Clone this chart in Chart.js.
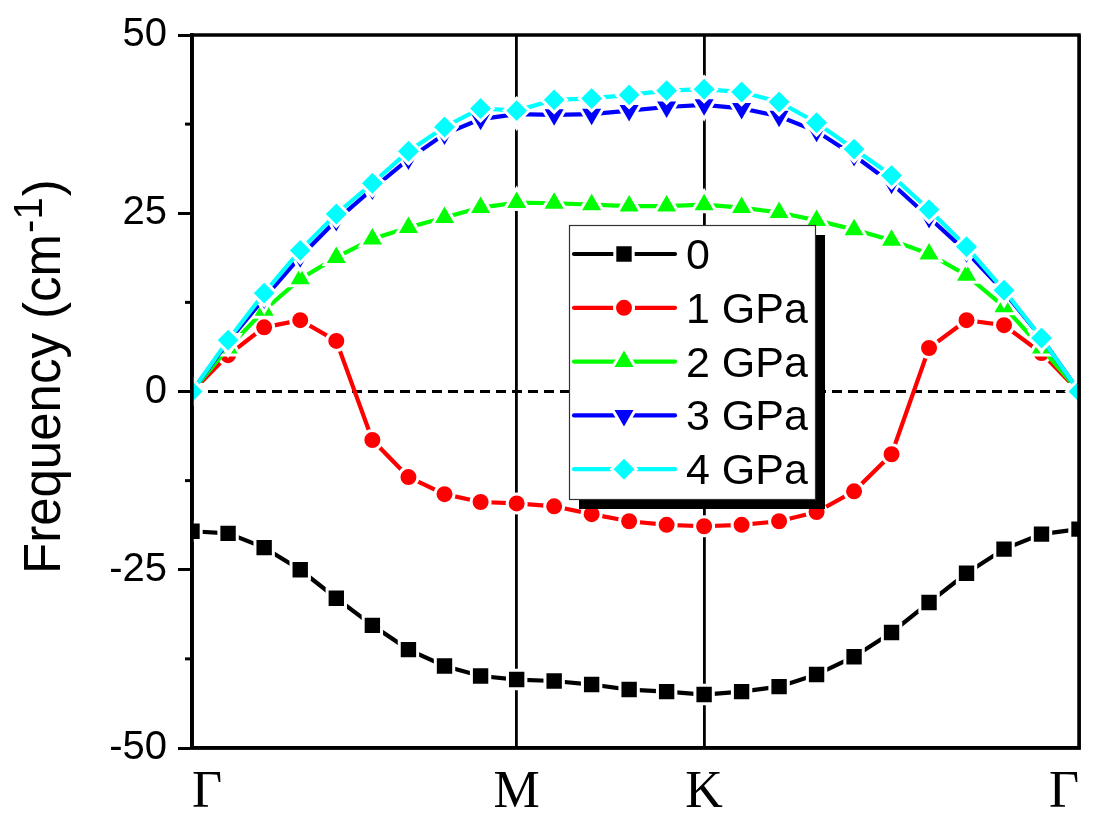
<!DOCTYPE html>
<html>
<head>
<meta charset="utf-8">
<script src="https://cdn.jsdelivr.net/npm/chart.js@4.4.1/dist/chart.umd.min.js"></script>
<style>
  html, body { margin: 0; padding: 0; background: #fff; }
  canvas { display: block; }
</style>
</head>
<body>
<canvas id="c" width="1097" height="820"></canvas>
<script>
// ---- data ----
// k-path distances (Γ-M: 9 steps, M-K: 5 steps, K-Γ: 10 steps)
const kPath = [0, 0.06415, 0.12830, 0.19245, 0.25660, 0.32075, 0.38490, 0.44905, 0.51320, 0.57735,
               0.64402, 0.71068, 0.77735, 0.84402, 0.91068,
               0.97735, 1.04402, 1.11068, 1.17735, 1.24402, 1.31068, 1.37735, 1.44402, 1.51068, 1.57735];
const kNodes = [0, 0.57735, 0.91068, 1.57735];
const kLabels = ['Γ', 'M', 'K', 'Γ'];
const yMajorTicks = [-50, -25, 0, 25, 50];
const yMinorTicks = [-37.5, -12.5, 12.5, 37.5];
const seriesNames = ['0', '1 GPa', '2 GPa', '3 GPa', '4 GPa'];

const freq0GPa = [-19.6, -19.9, -21.9, -25.0, -29.0, -32.8, -36.2, -38.5, -39.9, -40.4,
                  -40.6, -41.1, -41.8, -42.1, -42.5,
                  -42.1, -41.4, -39.7, -37.2, -33.8, -29.6, -25.5, -22.1, -20.0, -19.3];
const freq1GPa = [0, 5.1, 9.0, 10.0, 7.1, -6.8, -12.0, -14.4, -15.5, -15.7,
                  -16.1, -17.2, -18.2, -18.7, -18.9,
                  -18.7, -18.2, -16.9, -14.0, -8.8, 6.1, 10.0, 9.3, 5.4, 0];
const freq2GPa = [0, 6.1, 11.4, 15.8, 18.8, 21.4, 23.0, 24.4, 25.8, 26.5,
                  26.4, 26.2, 26.0, 26.0, 26.2,
                  25.8, 25.1, 24.0, 22.7, 21.2, 19.3, 16.3, 11.9, 6.1, 0];
const freq3GPa = [0, 7.0, 13.1, 18.9, 24.0, 28.4, 32.6, 36.1, 38.2, 38.9,
                  38.8, 38.9, 39.4, 39.9, 40.2,
                  39.7, 38.6, 36.5, 33.1, 29.2, 24.4, 19.6, 14.0, 7.5, 0];
const freq4GPa = [0, 7.2, 13.8, 19.8, 24.9, 29.2, 33.7, 37.1, 39.7, 39.4,
                  40.9, 41.1, 41.6, 42.2, 42.4,
                  42.0, 40.6, 37.7, 34.0, 30.3, 25.5, 20.3, 14.2, 7.5, 0];

// ---- styles ----
const colors = ['#000000', '#ff0000', '#00ff00', '#0000ff', '#00ffff'];
const pStyles = ['rect', 'circle', 'triangle', 'triangle', 'rectRot'];
const pRadii = [13, 9.5, 14, 14, 12.5];
const pRot = [0, 0, 0, 180, 0];
const allSeries = [freq0GPa, freq1GPa, freq2GPa, freq3GPa, freq4GPa];

const toXY = arr => arr.map((v, i) => ({ x: kPath[i], y: v }));

const datasets = allSeries.map((s, i) => ({
  label: seriesNames[i],
  data: toXY(s),
  borderColor: colors[i],
  backgroundColor: colors[i],
  borderWidth: 4.2,
  pointStyle: pStyles[i],
  pointRadius: pRadii[i],
  pointRotation: pRot[i],
  pointBackgroundColor: colors[i],
  pointBorderColor: '#ffffff',
  pointBorderWidth: 3,
  tension: 0,
  clip: 0,
  order: 4 - i
}));

const SANS = '"Liberation Sans", Arial, Helvetica, sans-serif';
const SERIF = '"Liberation Serif", "Times New Roman", serif';

function fallbackDrawPoint(ctx, o, x, y) {
  const r = o.radius;
  ctx.beginPath();
  if (o.pointStyle === 'rect') {
    const s = Math.SQRT1_2 * r; ctx.rect(x - s, y - s, 2 * s, 2 * s);
  } else if (o.pointStyle === 'circle') {
    ctx.arc(x, y, r, 0, Math.PI * 2);
  } else if (o.pointStyle === 'triangle') {
    let a = (o.rotation || 0) * Math.PI / 180;
    ctx.moveTo(x + Math.sin(a) * r, y - Math.cos(a) * r);
    a += 2 * Math.PI / 3; ctx.lineTo(x + Math.sin(a) * r, y - Math.cos(a) * r);
    a += 2 * Math.PI / 3; ctx.lineTo(x + Math.sin(a) * r, y - Math.cos(a) * r);
    ctx.closePath();
  } else {
    ctx.moveTo(x, y - r); ctx.lineTo(x + r, y); ctx.lineTo(x, y + r); ctx.lineTo(x - r, y); ctx.closePath();
  }
  ctx.fill();
  if (o.borderWidth > 0) ctx.stroke();
}

const decor = {
  id: 'decor',
  beforeDatasetsDraw(chart) {
    const { ctx, chartArea: a, scales: { y } } = chart;
    const y0 = y.getPixelForValue(0);
    ctx.save();
    ctx.strokeStyle = '#000';
    ctx.lineWidth = 3;
    ctx.setLineDash([10, 6]);
    ctx.beginPath();
    ctx.moveTo(a.left, y0);
    ctx.lineTo(a.right, y0);
    ctx.stroke();
    ctx.restore();
  },
  afterDatasetsDraw(chart) {
    const { ctx, chartArea: a, scales: { y } } = chart;
    ctx.save();
    ctx.strokeStyle = '#000';
    ctx.lineWidth = 3.5;
    ctx.strokeRect(a.left, a.top, a.right - a.left, a.bottom - a.top);
    // minor ticks
    ctx.lineWidth = 3;
    yMinorTicks.forEach(v => {
      const py = y.getPixelForValue(v);
      ctx.beginPath();
      ctx.moveTo(a.left - 7, py);
      ctx.lineTo(a.left, py);
      ctx.stroke();
    });
    ctx.restore();
  },
  afterDraw(chart) {
    const { ctx } = chart;
    // y axis title with superscript
    ctx.save();
    ctx.fillStyle = '#000';
    ctx.translate(60, 574);
    ctx.rotate(-Math.PI / 2);
    ctx.textAlign = 'left';
    ctx.textBaseline = 'alphabetic';
    ctx.font = '51px ' + SANS;
    const main = 'Frequency (cm';
    ctx.fillText(main, 0, 0);
    let w = ctx.measureText(main).width;
    ctx.font = '40px ' + SANS;
    ctx.fillText('-1', w + 1, -18);
    w += ctx.measureText('-1').width + 2;
    ctx.font = '51px ' + SANS;
    ctx.fillText(')', w, 0);
    ctx.restore();

    // legend
    const bx = 569, by = 225, bw = 246, bh = 274;
    ctx.save();
    ctx.fillStyle = '#000';
    ctx.fillRect(bx + 10, by + 10, bw, bh);
    ctx.fillStyle = '#fff';
    ctx.fillRect(bx, by, bw, bh);
    ctx.strokeStyle = '#333';
    ctx.lineWidth = 1.2;
    ctx.strokeRect(bx + 0.5, by + 0.5, bw, bh);
    const drawPoint = (Chart.helpers && Chart.helpers.drawPoint) || fallbackDrawPoint;
    chart.data.datasets.forEach((ds, i) => {
      const ry = 254 + i * 53.8;
      ctx.strokeStyle = ds.borderColor;
      ctx.lineWidth = 4.2;
      ctx.lineCap = 'round';
      ctx.setLineDash([]);
      ctx.beginPath();
      ctx.moveTo(574, ry);
      ctx.lineTo(675, ry);
      ctx.stroke();
      ctx.lineCap = 'butt';
      ctx.fillStyle = ds.pointBackgroundColor;
      ctx.strokeStyle = '#fff';
      ctx.lineWidth = 3;
      drawPoint(ctx, { pointStyle: ds.pointStyle, radius: ds.pointRadius, rotation: ds.pointRotation, borderWidth: 3 }, 624, ry);
      ctx.fillStyle = '#000';
      ctx.font = '43px ' + SANS;
      ctx.textAlign = 'left';
      ctx.textBaseline = 'alphabetic';
      ctx.fillText(ds.label, 686, ry + 15);
    });
    ctx.restore();
  }
};

new Chart(document.getElementById('c'), {
  type: 'line',
  data: { datasets },
  options: {
    responsive: false,
    animation: false,
    devicePixelRatio: 1,
    events: [],
    layout: { padding: { left: 0, right: 18, top: 33, bottom: 0 } },
    plugins: { legend: { display: false }, tooltip: { enabled: false }, title: { display: false } },
    scales: {
      x: {
        type: 'linear',
        min: kNodes[0],
        max: kNodes[3],
        afterBuildTicks: s => { s.ticks = kNodes.map(v => ({ value: v })); },
        afterFit: s => { s.height = 72; },
        ticks: {
          callback: (v, i) => kLabels[i],
          font: { family: SERIF, size: 52 },
          color: '#000',
          padding: 14,
          align: 'inner',
          autoSkip: false,
          maxRotation: 0,
          minRotation: 0
        },
        grid: { color: '#000', lineWidth: 2.8, drawTicks: false, drawOnChartArea: true },
        border: { display: true, color: '#000', width: 3.5 }
      },
      y: {
        type: 'linear',
        min: -50,
        max: 50,
        afterBuildTicks: s => { s.ticks = yMajorTicks.map(v => ({ value: v })); },
        afterFit: s => { s.width = 192; },
        ticks: {
          callback: v => String(v),
          font: { family: SANS, size: 40 },
          color: '#000',
          padding: 11
        },
        grid: { drawOnChartArea: false, drawTicks: true, tickLength: 14, tickWidth: 3, tickColor: '#000' },
        border: { display: true, color: '#000', width: 3.5 }
      }
    }
  },
  plugins: [decor]
});
</script>
</body>
</html>
